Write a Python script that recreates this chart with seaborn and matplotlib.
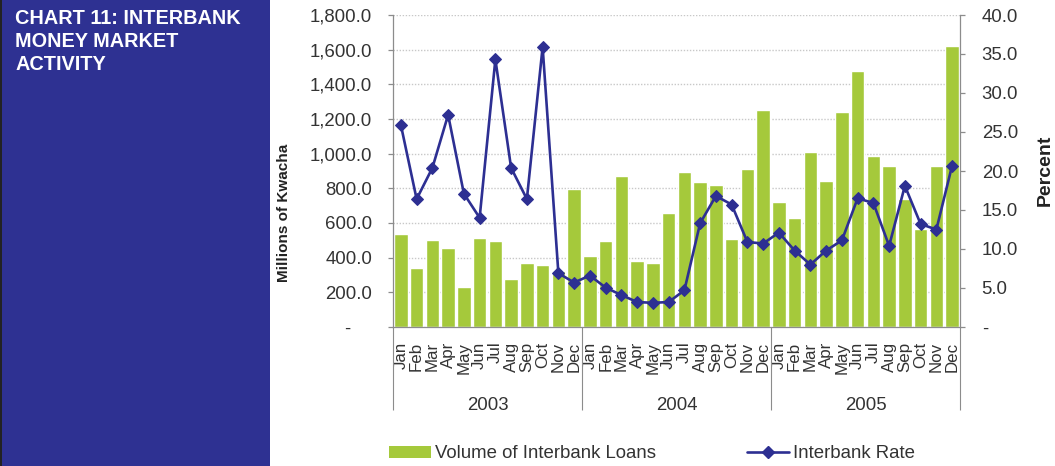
import matplotlib
matplotlib.use("Agg")
import matplotlib.pyplot as plt
from matplotlib.patches import Rectangle
from matplotlib.ticker import FixedLocator, FuncFormatter
import numpy as np
import pandas as pd
import seaborn as sns

# Monthly interbank data, 2003-2005
years = ["2003", "2004", "2005"]
months = ["Jan", "Feb", "Mar", "Apr", "May", "Jun",
          "Jul", "Aug", "Sep", "Oct", "Nov", "Dec"]

# Volume of interbank loans (millions of Kwacha)
loans_2003 = [535, 341, 504, 456, 231, 516, 497, 279, 368, 356, 322, 799]
loans_2004 = [408, 497, 870, 381, 370, 655, 897, 839, 822, 508, 909, 1251]
loans_2005 = [722, 626, 1007, 841, 1242, 1477, 988, 926, 737, 565, 926, 1623]

# Interbank rate (percent)
rate_2003 = [25.9, 16.4, 20.4, 27.2, 17.1, 14.0, 34.3, 20.4, 16.4, 35.9, 6.9, 5.7]
rate_2004 = [6.6, 5.05, 4.1, 3.2, 3.1, 3.2, 4.7, 13.3, 16.8, 15.7, 10.9, 10.7]
rate_2005 = [12.1, 9.8, 8.0, 9.8, 11.1, 16.5, 15.9, 10.4, 18.1, 13.2, 12.5, 20.7]

left_ticks = [0, 200, 400, 600, 800, 1000, 1200, 1400, 1600, 1800]
right_ticks = [0, 5, 10, 15, 20, 25, 30, 35, 40]

BAR_GREEN = "#A5C93B"
LINE_NAVY = "#2D2F92"
PANEL_BLUE = "#2E3192"
AXIS_GREY = "#8C8C8C"

sns.set_style("white")
plt.rcParams["font.family"] = ["Liberation Sans", "DejaVu Sans"]

df = pd.DataFrame({
    "idx": np.arange(36),
    "month": months * 3,
    "loans": loans_2003 + loans_2004 + loans_2005,
    "rate": rate_2003 + rate_2004 + rate_2005,
})

W, H = 1055, 466
fig = plt.figure(figsize=(W / 100, H / 100), dpi=100)

def fx(px):
    return px / W

def fy(py):
    return 1 - py / H

# Title panel on the left
fig.patches.append(Rectangle((0, 0), fx(270), 1, transform=fig.transFigure,
                             facecolor=PANEL_BLUE, edgecolor="none", zorder=-5))
fig.patches.append(Rectangle((0, 0), fx(2), 1, transform=fig.transFigure,
                             facecolor="#222222", edgecolor="none", zorder=-4))
fig.text(fx(15), fy(9), "CHART 11: INTERBANK\nMONEY MARKET\nACTIVITY",
         color="white", fontsize=14.3, fontweight="bold", ha="left", va="top",
         linespacing=1.27)

ax = fig.add_axes([fx(393), fy(327), fx(960) - fx(393), fy(15) - fy(327)])

sns.barplot(data=df, x="idx", y="loans", color=BAR_GREEN, saturation=1,
            width=0.87, ax=ax, zorder=2)
ax.set_xlim(-0.5, 35.5)
ax.set_ylim(0, 1800)
ax.set_axisbelow(True)
ax.yaxis.set_major_locator(FixedLocator(left_ticks))
ax.yaxis.set_major_formatter(FuncFormatter(
    lambda v, p: "-    " if v == 0 else f"{v:,.1f}"))
ax.grid(axis="y", color="#C8C8C8", linestyle=(0, (1, 1.2)), linewidth=1.0)
ax.tick_params(axis="y", which="major", direction="out", length=3.6,
               width=0.9, color=AXIS_GREY, pad=11.5, labelsize=13.4,
               labelcolor="#333333")

# Month labels at category centres, separators at category boundaries
ax.set_xticks(np.arange(36))
ax.set_xticklabels(df["month"], rotation=90, fontsize=12.2, color="#333333")
ax.tick_params(axis="x", which="major", length=0, pad=10.5)
ax.set_xticks(np.arange(36)[:-1] + 0.5, minor=True)
ax.tick_params(axis="x", which="minor", direction="out", length=32.5,
               width=0.8, color=AXIS_GREY)
ax.set_xlabel("")
ax.set_ylabel("")

xt = ax.get_xaxis_transform()
ax.vlines([-0.5, 11.5, 23.5, 35.5], -0.266, 0, transform=xt, color=AXIS_GREY,
          linewidth=0.8, clip_on=False)
for i, yr in enumerate(years):
    ax.text(i * 12 + 5.5, -0.25, yr, transform=xt, ha="center", va="center",
            fontsize=13.4, color="#333333")

for side in ["top", "right"]:
    ax.spines[side].set_visible(False)
for side in ["left", "bottom"]:
    ax.spines[side].set_color(AXIS_GREY)
    ax.spines[side].set_linewidth(0.9)

# Interbank rate on the secondary axis
ax2 = ax.twinx()
sns.lineplot(data=df, x="idx", y="rate", ax=ax2, color=LINE_NAVY,
             linewidth=1.9, marker="D", markersize=6.2,
             markeredgecolor=LINE_NAVY, markerfacecolor=LINE_NAVY)
ax2.set_xlim(-0.5, 35.5)
ax2.set_ylim(0, 40)
ax2.yaxis.set_major_locator(FixedLocator(right_ticks))
ax2.yaxis.set_major_formatter(FuncFormatter(
    lambda v, p: "-" if v == 0 else f"{v:.1f}"))
ax2.tick_params(axis="y", direction="out", length=3.6, width=0.9,
                color=AXIS_GREY, pad=12, labelsize=13.4, labelcolor="#333333")
ax2.set_ylabel("")
ax2.set_xlabel("")
for side in ["top", "left", "bottom"]:
    ax2.spines[side].set_visible(False)
ax2.spines["right"].set_color(AXIS_GREY)
ax2.spines["right"].set_linewidth(0.9)

fig.text(fx(284), fy(213), "Millions of Kwacha", rotation=90, ha="center",
         va="center", fontsize=11, fontweight="bold", color="#222222")
fig.text(fx(1045), fy(170), "Percent", rotation=90, ha="center",
         va="center", fontsize=14, fontweight="bold", color="#222222")

# Legend along the bottom
bar_handle = Rectangle((0, 0), 1, 1, facecolor=BAR_GREEN, edgecolor="none")
line_handle = plt.Line2D([], [], color=LINE_NAVY, linewidth=1.9, marker="D",
                         markersize=6.2)
fig.legend([bar_handle, line_handle],
           ["Volume of Interbank Loans", "Interbank Rate"],
           loc="center", bbox_to_anchor=(fx(652), fy(454)), ncol=2,
           frameon=False, fontsize=13.4, handlelength=2.25, handleheight=0.65,
           handletextpad=0.2, columnspacing=4.9, labelcolor="#333333")

fig.savefig("out.png", dpi=100)
